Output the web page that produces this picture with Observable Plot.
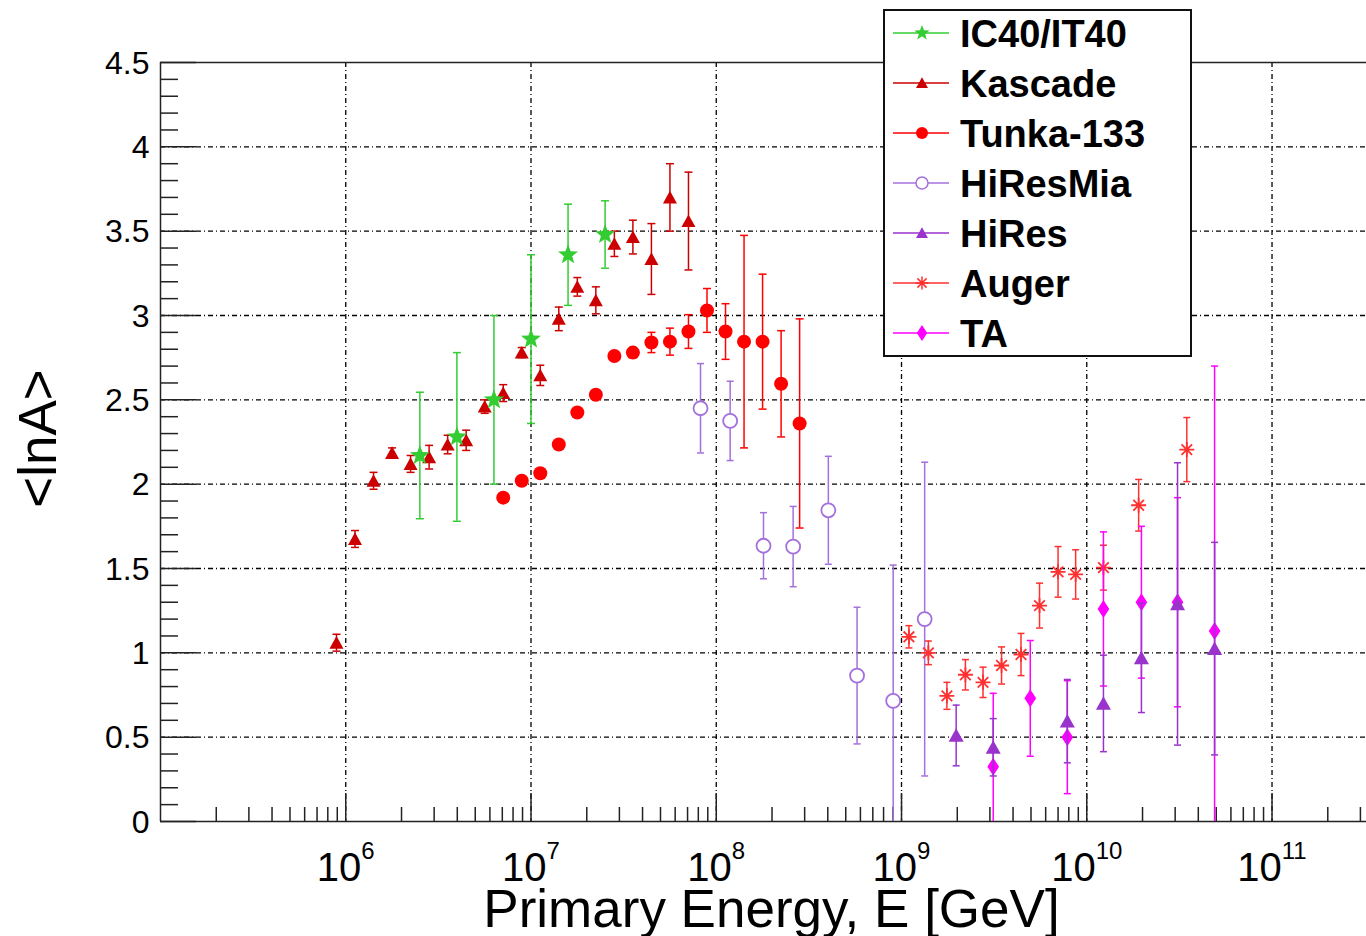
<!DOCTYPE html>
<html><head><meta charset="utf-8">
<script src="https://cdn.jsdelivr.net/npm/d3@7"></script>
<script src="https://cdn.jsdelivr.net/npm/@observablehq/plot@0.6"></script>
<style>
body{margin:0;background:#fff;}
#wrap{position:relative;width:1366px;height:936px;overflow:hidden;font-family:"Liberation Sans",Arial,Helvetica,sans-serif;}
#legend{position:absolute;left:883px;top:9px;}
</style></head><body><div id="wrap"></div>
<script>
// ---- data (log10 of energy in GeV, <lnA>, error) ----
const kascadeLogE = [5.95,6.05,6.15,6.25,6.35,6.45,6.55,6.65,6.75,6.85,6.95,7.05,7.15,7.25,7.35,7.45,7.55,7.65,7.75,7.85];
const kascadeLnA  = [1.06,1.675,2.02,2.185,2.12,2.16,2.235,2.26,2.46,2.54,2.78,2.645,2.98,3.17,3.09,3.425,3.465,3.335,3.70,3.56];
const kascadeErr  = [0.05,0.05,0.05,0.03,0.05,0.07,0.055,0.06,0.04,0.05,0.03,0.06,0.07,0.055,0.08,0.075,0.10,0.21,0.20,0.29];

const icLogE = [6.4,6.6,6.8,7.0,7.2,7.4];
const icLnA  = [2.17,2.28,2.5,2.86,3.36,3.48];
const icErr  = [0.375,0.5,0.5,0.5,0.3,0.2];

const tunkaLogE = [6.85,6.95,7.05,7.15,7.25,7.35,7.45,7.55,7.65,7.75,7.85,7.95,8.05,8.15,8.25,8.35,8.45];
const tunkaLnA  = [1.92,2.02,2.065,2.235,2.425,2.53,2.76,2.78,2.84,2.845,2.905,3.03,2.905,2.845,2.845,2.595,2.36];
const tunkaErr  = [0.02,0.02,0.02,0.02,0.02,0.02,0.02,0.03,0.06,0.08,0.10,0.13,0.165,0.63,0.40,0.315,0.62];

const hiresMiaLogE = [7.915,8.075,8.255,8.415,8.605,8.76,8.955,9.125];
const hiresMiaLnA  = [2.45,2.375,1.635,1.63,1.845,0.865,0.715,1.2];
const hiresMiaErr  = [0.265,0.235,0.196,0.238,0.32,0.405,0.805,0.93];

const hiresLogE = [9.295,9.495,9.895,10.09,10.295,10.49,10.69];
const hiresLnA  = [0.51,0.44,0.595,0.70,0.97,1.29,1.025];
const hiresErr  = [0.18,0.17,0.247,0.286,0.324,0.837,0.63];

const augerLogE = [9.04,9.145,9.245,9.345,9.44,9.54,9.645,9.745,9.845,9.94,10.09,10.28,10.54];
const augerLnA  = [1.095,1.0,0.745,0.87,0.825,0.925,0.99,1.28,1.48,1.465,1.505,1.875,2.205];
const augerErr  = [0.066,0.07,0.08,0.09,0.09,0.11,0.125,0.133,0.15,0.146,0.133,0.153,0.19];

const taLogE = [9.495,9.695,9.895,10.09,10.295,10.49,10.69];
const taLnA  = [0.325,0.73,0.50,1.26,1.30,1.30,1.13];
const taErr  = [0.435,0.343,0.335,0.457,0.45,0.62,1.57];

const xMajor = [1e6,1e7,1e8,1e9,1e10,1e11];
const yMajor = [0,0.5,1,1.5,2,2.5,3,3.5,4,4.5];
const yTickLabels = ["0","0.5","1","1.5","2","2.5","3","3.5","4","4.5"];
const yGrid = [0.5,1,1.5,2,2.5,3,3.5,4];
const legendNames = ["IC40/IT40","Kascade","Tunka-133","HiResMia","HiRes","Auger","TA"];

// ---- helpers ----
const xDomain = [1e5, 10**11.51];
function series(L, v, e){ return L.map((l,i)=>({E: 10**l, v: v[i], lo: v[i]-e[i], hi: v[i]+e[i]})); }
const xMinor = [];
for (let k=5;k<=11;k++) for (let m=2;m<=9;m++){ const val=m*10**k; if (val<=xDomain[1]) xMinor.push(val); }
const yMinor = d3.range(0,46).filter(i=>i%5!==0).map(i=>i/10);

// ---- custom symbols ----
const rOf = s => Math.sqrt(s/Math.PI);
const starSym = {draw(ctx,s){const R=rOf(s), ri=R*0.42; for(let i=0;i<10;i++){const a=-Math.PI/2+i*Math.PI/5, rr=i%2?ri:R; const x=rr*Math.cos(a), y=rr*Math.sin(a); if(i) ctx.lineTo(x,y); else ctx.moveTo(x,y);} ctx.closePath();}};
const triSym = {draw(ctx,s){const R=rOf(s); ctx.moveTo(0,-R*0.95); ctx.lineTo(R,R*0.85); ctx.lineTo(-R,R*0.85); ctx.closePath();}};
const circSym = {draw(ctx,s){const R=rOf(s); ctx.moveTo(R,0); ctx.arc(0,0,R,0,2*Math.PI); ctx.closePath();}};
const diamSym = {draw(ctx,s){const R=rOf(s); ctx.moveTo(0,-R); ctx.lineTo(R*0.65,0); ctx.lineTo(0,R); ctx.lineTo(-R*0.65,0); ctx.closePath();}};
const astSym = {draw(ctx,s){const R=rOf(s); for(let k=0;k<4;k++){const a=k*Math.PI/4; ctx.moveTo(-R*Math.cos(a),-R*Math.sin(a)); ctx.lineTo(R*Math.cos(a),R*Math.sin(a));}}};
const capSym = {draw(ctx,s){const R=rOf(s); ctx.moveTo(-R,0); ctx.lineTo(R,0);}};

const C = {ic:"#33cc33", kas:"#cc0000", tun:"#ff0000", mia:"#a470dc", hires:"#9933cc", aug:"#ff3030", ta:"#ff00ff"};

const sets = [
  {data: series(kascadeLogE,kascadeLnA,kascadeErr), color:C.kas, sym:triSym, r:7, fill:C.kas, stroke:"none", cap:4},
  {data: series(tunkaLogE,tunkaLnA,tunkaErr), color:C.tun, sym:circSym, r:7, fill:C.tun, stroke:"none", cap:4},
  {data: series(hiresMiaLogE,hiresMiaLnA,hiresMiaErr), color:C.mia, sym:circSym, r:7, fill:"white", stroke:C.mia, cap:3.5},
  {data: series(augerLogE,augerLnA,augerErr), color:C.aug, sym:astSym, r:7.5, fill:"none", stroke:C.aug, cap:3.5},
  {data: series(taLogE,taLnA,taErr), color:C.ta, sym:diamSym, r:9, fill:C.ta, stroke:"none", cap:3.5},
  {data: series(hiresLogE,hiresLnA,hiresErr), color:C.hires, sym:triSym, r:7.5, fill:C.hires, stroke:"none", cap:3.5},
  {data: series(icLogE,icLnA,icErr), color:C.ic, sym:starSym, r:10.5, fill:C.ic, stroke:"none", cap:4}
];

const dataMarks = sets.flatMap(s => [
  Plot.ruleX(s.data, {x:"E", y1:"lo", y2:"hi", stroke:s.color, strokeWidth:1.5, clip:true}),
  Plot.dot(s.data, {x:"E", y:"hi", symbol:capSym, r:s.cap, stroke:s.color, fill:"none", strokeWidth:1.5, clip:true}),
  Plot.dot(s.data, {x:"E", y:"lo", symbol:capSym, r:s.cap, stroke:s.color, fill:"none", strokeWidth:1.5, clip:true}),
  Plot.dot(s.data, {x:"E", y:"v", symbol:s.sym, r:s.r, fill:s.fill, stroke:s.stroke, strokeWidth:1.8})
]);

const dash = "5,3,1,3";
const chart = Plot.plot({
  width:1366, height:936,
  marginLeft:160, marginRight:0, marginTop:62, marginBottom:115,
  x:{type:"log", domain:xDomain, axis:null},
  y:{domain:[0,4.5], axis:null},
  style:{fontFamily:"'Liberation Sans', Arial, Helvetica, sans-serif", background:"white", color:"black"},
  marks:[
    Plot.ruleX(xMajor, {x:d=>d, stroke:"black", strokeWidth:1.3, strokeDasharray:dash}),
    Plot.ruleY(yGrid, {y:d=>d, stroke:"black", strokeWidth:1.3, strokeDasharray:dash}),
    // frame
    Plot.ruleY([0,4.5], {y:d=>d, stroke:"#222", strokeWidth:1.5}),
    Plot.ruleX([xDomain[0]], {x:d=>d, stroke:"#222", strokeWidth:1.5}),
    // ticks
    Plot.tickY(yMajor, {y:d=>d, insetRight:1206-36, stroke:"#222", strokeWidth:1.5}),
    Plot.tickY(yMinor, {y:d=>d, insetRight:1206-18, stroke:"#222", strokeWidth:1.5}),
    Plot.tickX(xMajor, {x:d=>d, insetTop:759-28, stroke:"#222", strokeWidth:1.5}),
    Plot.tickX(xMinor, {x:d=>d, insetTop:759-14, stroke:"#222", strokeWidth:1.5}),
    ...dataMarks,
    // tick labels
    Plot.text(yMajor, {y:d=>d, text:(d,i)=>yTickLabels[i], frameAnchor:"left", textAnchor:"end", dx:-11, dy:1, fontSize:32, fill:"black"}),
    Plot.text(xMajor, {x:d=>d, text:d=>String(Math.round(Math.log10(d))), frameAnchor:"bottom", lineAnchor:"bottom", textAnchor:"middle", dy:59, fontSize:40, fill:"black"}),
    // axis titles
    Plot.text(["Primary Energy, E [GeV]"], {frameAnchor:"bottom", lineAnchor:"bottom", textAnchor:"middle", dx:8, dy:105, fontSize:53, fill:"black"}),
    Plot.text(["<lnA>"], {frameAnchor:"left", lineAnchor:"bottom", textAnchor:"middle", rotate:-90, dx:-105, dy:-3.5, fontSize:53, fill:"black"})
  ]
});

// render x tick labels as 10 with superscript exponent
d3.select(chart).selectAll("text").filter(function(){
  const g = this.closest("g");
  return g && g.getAttribute("font-size") === "40";
}).each(function(){
  const e = this.textContent;
  const t = d3.select(this);
  t.text(null);
  t.append("tspan").text("10");
  t.append("tspan").attr("dy", -22).attr("font-size", 24).text(e);
});

const wrap = document.getElementById("wrap");
wrap.appendChild(chart);

// ---- legend ----
const legendSyms = [
  {sym:starSym, r:8, fill:C.ic, stroke:"none", line:C.ic},
  {sym:triSym, r:6, fill:C.kas, stroke:"none", line:C.kas},
  {sym:circSym, r:6, fill:C.tun, stroke:"none", line:C.tun},
  {sym:circSym, r:6, fill:"white", stroke:C.mia, line:C.mia},
  {sym:triSym, r:6, fill:C.hires, stroke:"none", line:C.hires},
  {sym:astSym, r:6.5, fill:"none", stroke:C.aug, line:C.aug},
  {sym:diamSym, r:8, fill:C.ta, stroke:"none", line:C.ta}
];
const lg = d3.create("svg").attr("id","legend").attr("width",311).attr("height",350)
  .style("font-family","'Liberation Sans', Arial, Helvetica, sans-serif");
lg.append("rect").attr("x",1).attr("y",1).attr("width",307).attr("height",346)
  .attr("fill","white").attr("stroke","#111").attr("stroke-width",2);
legendNames.forEach((name,i)=>{
  const cy = 24 + i*50;
  const s = legendSyms[i];
  lg.append("line").attr("x1",10).attr("x2",66).attr("y1",cy).attr("y2",cy).attr("stroke",s.line).attr("stroke-width",1.5);
  lg.append("path").attr("transform",`translate(39,${cy})`)
    .attr("d", d3.symbol(s.sym, Math.PI*s.r*s.r)())
    .attr("fill", s.fill).attr("stroke", s.stroke).attr("stroke-width",1.5);
  lg.append("text").attr("x",77).attr("y",cy+14).attr("font-size",38).attr("font-weight","bold").attr("fill","black").text(name);
});
wrap.appendChild(lg.node());
</script></body></html>
